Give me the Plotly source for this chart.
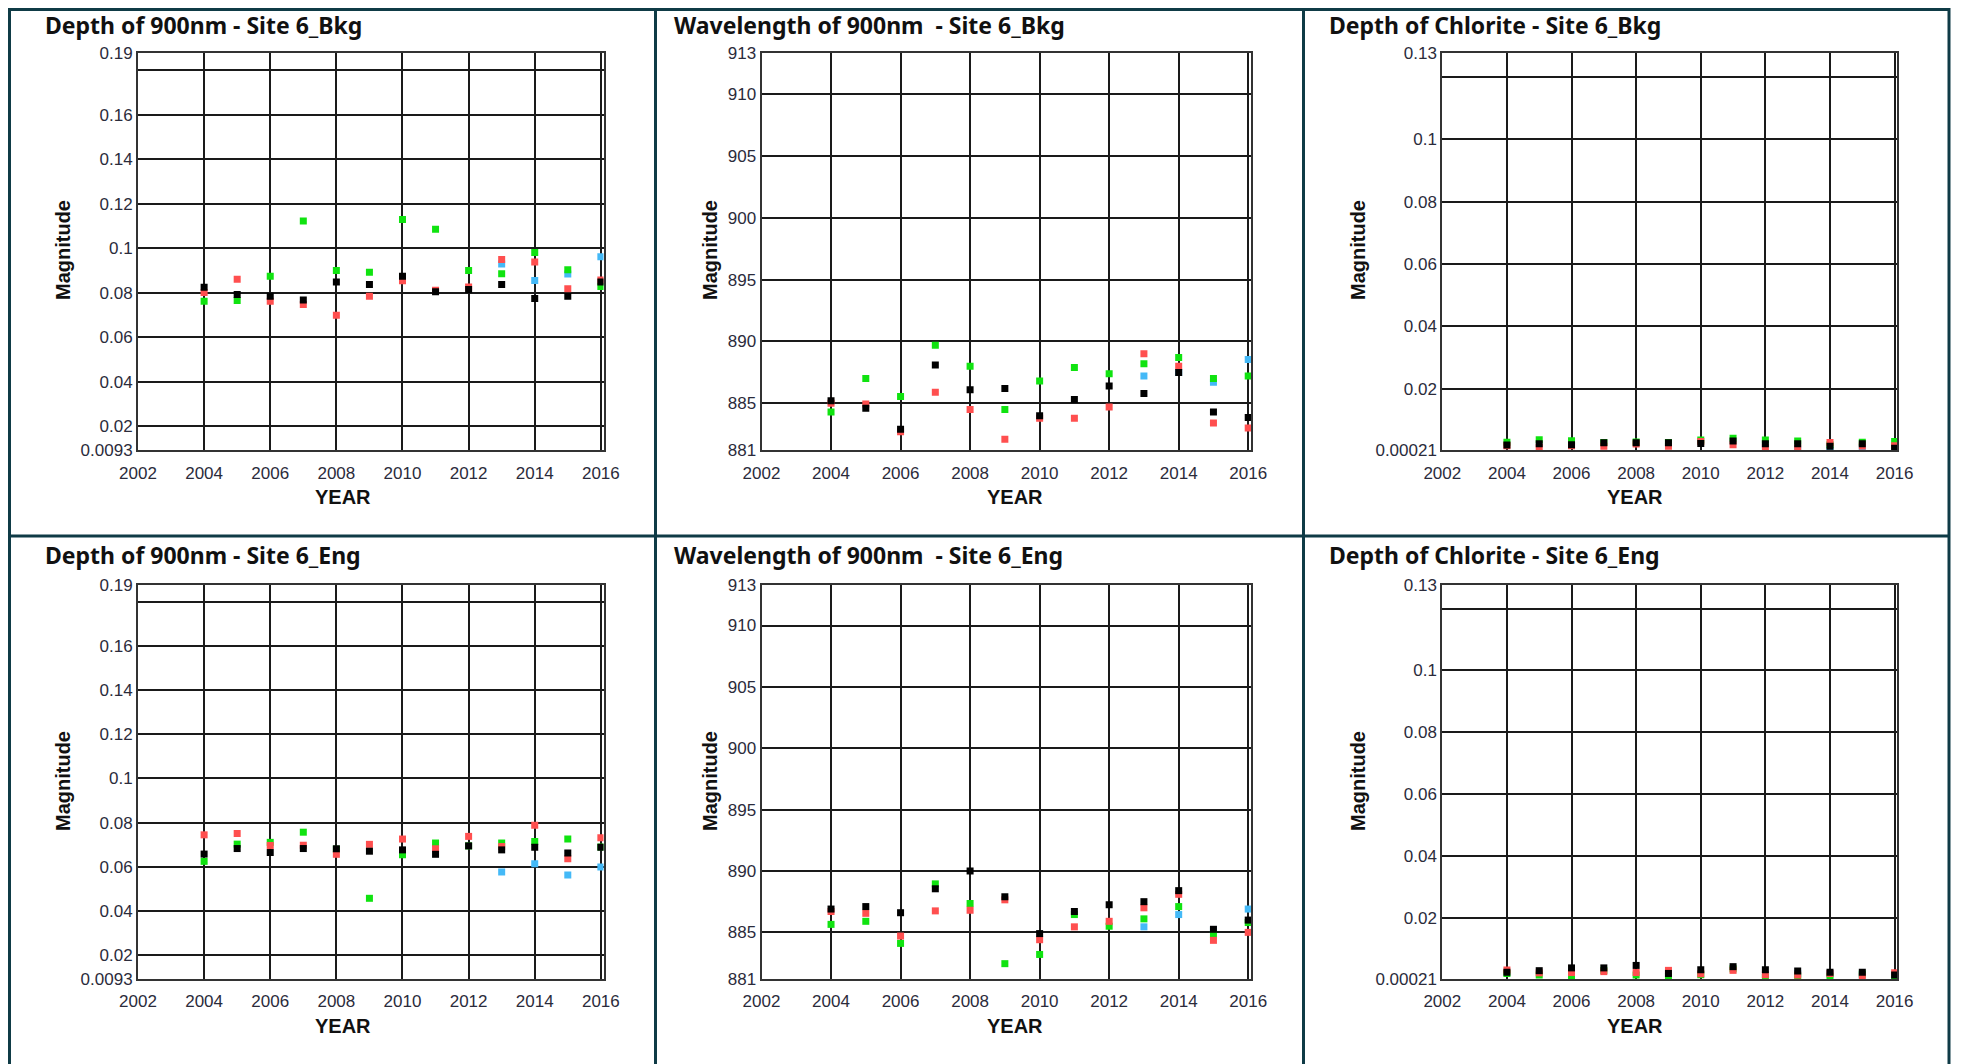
import plotly.graph_objects as go

# the page body adds an 8px margin, so the figure is a bit smaller than the window
PAGE_OFFSET = 8
FIG_W, FIG_H = 1961 - PAGE_OFFSET, 1064 - PAGE_OFFSET

years = [2004, 2005, 2006, 2007, 2008, 2009, 2010, 2011, 2012, 2013, 2014, 2015, 2016]
x_tick_years = [2002, 2004, 2006, 2008, 2010, 2012, 2014, 2016]

# Depth of 900nm - Site 6_Bkg
bkg_depth_red = [0.0802, 0.0861, 0.0762, 0.0748, 0.0699, 0.0785, 0.0854, 0.0812, 0.0826, 0.0950, 0.0938, 0.0818, 0.0858]
bkg_depth_green = [0.0762, 0.0766, 0.0874, 0.1123, 0.0900, 0.0892, 0.1129, 0.1085, 0.0900, 0.0886, 0.0981, 0.0904, 0.0828]
bkg_depth_blue = [None, None, None, None, None, None, None, None, None, 0.0930, 0.0855, 0.0884, 0.0962]
bkg_depth_black = [0.0825, 0.0792, 0.0785, 0.0768, 0.0849, 0.0837, 0.0874, 0.0805, 0.0815, 0.0837, 0.0774, 0.0785, 0.0849]

# Wavelength of 900nm - Site 6_Bkg
bkg_wl_red = [885.0, 884.95, 882.7, 885.9, 884.5, 882.1, 883.8, 883.8, 884.7, 889.0, 888.0, 883.4, 883.0]
bkg_wl_green = [884.3, 887.0, 885.55, 889.7, 888.0, 884.5, 886.8, 887.9, 887.4, 888.2, 888.7, 887.0, 887.2]
bkg_wl_blue = [None, None, None, None, None, None, None, None, None, 887.2, 887.5, 886.7, 888.55]
bkg_wl_black = [885.2, 884.6, 882.9, 888.1, 886.1, 886.2, 884.0, 885.3, 886.4, 885.8, 887.5, 884.3, 883.85]

# Depth of Chlorite - Site 6_Bkg
bkg_chl_red = [0.0017, 0.0011, 0.0017, 0.0015, 0.0022, 0.0015, 0.0030, 0.0020, 0.0011, 0.0009, 0.0027, 0.0016, 0.0017]
bkg_chl_green = [0.0028, 0.0036, 0.0033, 0.0027, 0.0029, 0.0027, 0.0035, 0.0041, 0.0035, 0.0032, 0.0020, 0.0028, 0.0030]
bkg_chl_blue = [None, None, None, None, None, None, None, None, None, 0.0002, 0.0002, 0.0011, 0.0013]
bkg_chl_black = [0.0019, 0.0023, 0.0020, 0.0026, 0.0026, 0.0026, 0.0024, 0.0032, 0.0023, 0.0023, 0.0015, 0.0023, 0.0009]

# Depth of 900nm - Site 6_Eng
eng_depth_red = [0.0745, 0.0751, 0.0697, 0.0698, 0.0657, 0.0702, 0.0726, 0.0682, 0.0738, 0.0692, 0.0788, 0.0637, 0.0732]
eng_depth_green = [0.0625, 0.0703, 0.0711, 0.0757, 0.0680, 0.0458, 0.0655, 0.0708, 0.0695, 0.0708, 0.0715, 0.0726, 0.0690]
eng_depth_blue = [None, None, None, None, None, None, None, None, None, 0.0577, 0.0614, 0.0563, 0.0600]
eng_depth_black = [0.0658, 0.0683, 0.0665, 0.0683, 0.0682, 0.0671, 0.0677, 0.0657, 0.0695, 0.0677, 0.0689, 0.0663, 0.0689]

# Wavelength of 900nm - Site 6_Eng
eng_wl_red = [886.7, 886.55, 884.7, 886.75, 886.8, 887.65, 884.4, 885.45, 885.9, 887.0, 888.1, 884.35, 885.0]
eng_wl_green = [885.65, 885.9, 884.1, 888.95, 887.35, 882.45, 883.2, 886.45, 885.5, 886.1, 887.1, 884.8, 885.8]
eng_wl_blue = [None, None, None, None, None, None, None, None, None, 885.45, 886.45, 885.2, 886.9]
eng_wl_black = [886.9, 887.1, 886.6, 888.55, 890.0, 887.9, 884.9, 886.7, 887.25, 887.5, 888.4, 885.25, 886.0]

# Depth of Chlorite - Site 6_Eng
eng_chl_red = [0.0031, 0.0022, 0.0023, 0.0026, 0.0023, 0.0030, 0.0019, 0.0030, 0.0016, 0.0015, 0.0020, 0.0011, 0.0022]
eng_chl_green = [0.0020, 0.0015, 0.0013, 0.0030, 0.0015, 0.0010, 0.0016, 0.0035, 0.0007, 0.0012, 0.0011, 0.0018, 0.0002]
eng_chl_blue = [None, None, None, None, None, None, None, None, None, 0.0020, 0.0018, 0.0015, 0.0012]
eng_chl_black = [0.0024, 0.0029, 0.0038, 0.0038, 0.0046, 0.0020, 0.0032, 0.0042, 0.0032, 0.0028, 0.0024, 0.0024, 0.0015]

# y axis ticks (ends of the range are labelled rounded, like the original tool)
depth_range = [0.0093, 0.1875]
depth_tickvals = [0.0093, 0.02, 0.04, 0.06, 0.08, 0.10, 0.12, 0.14, 0.16, 0.18, 0.1875]
depth_ticktext = ["0.0093", "0.02", "0.04", "0.06", "0.08", "0.1", "0.12", "0.14", "0.16", "", "0.19"]

wl_range = [881.2, 913.3]
wl_tickvals = [881.2, 885, 890, 895, 900, 905, 910, 913.3]
wl_ticktext = ["881", "885", "890", "895", "900", "905", "910", "913"]

chl_range = [0.00021, 0.1276]
chl_tickvals = [0.00021, 0.02, 0.04, 0.06, 0.08, 0.10, 0.12, 0.1276]
chl_ticktext = ["0.00021", "0.02", "0.04", "0.06", "0.08", "0.1", "", "0.13"]

series_colors = {"blue": "#44b9f7", "green": "#10e310", "red": "#ff4f4f", "black": "#000000"}

panels = [
    ("Depth of 900nm - Site 6_Bkg", (bkg_depth_blue, bkg_depth_green, bkg_depth_red, bkg_depth_black),
     depth_range, depth_tickvals, depth_ticktext),
    ("Wavelength of 900nm  - Site 6_Bkg", (bkg_wl_blue, bkg_wl_green, bkg_wl_red, bkg_wl_black),
     wl_range, wl_tickvals, wl_ticktext),
    ("Depth of Chlorite - Site 6_Bkg", (bkg_chl_blue, bkg_chl_green, bkg_chl_red, bkg_chl_black),
     chl_range, chl_tickvals, chl_ticktext),
    ("Depth of 900nm - Site 6_Eng", (eng_depth_blue, eng_depth_green, eng_depth_red, eng_depth_black),
     depth_range, depth_tickvals, depth_ticktext),
    ("Wavelength of 900nm  - Site 6_Eng", (eng_wl_blue, eng_wl_green, eng_wl_red, eng_wl_black),
     wl_range, wl_tickvals, wl_ticktext),
    ("Depth of Chlorite - Site 6_Eng", (eng_chl_blue, eng_chl_green, eng_chl_red, eng_chl_black),
     chl_range, chl_tickvals, chl_ticktext),
]

# pixel boxes of the plot areas (window coordinates)
col_x = [(138, 603.5), (761.5, 1251), (1442.3, 1897.2)]
row_y = [(53.4, 450.3), (585, 979)]
title_x = [43, 672, 1327]
title_y = [24.5, 555]
year_x = [342.6, 1014.8, 1635.4]
year_y = [497, 1026]
mag_x = [63, 710, 1358]
mag_y = [250, 781]


def px(x):
    return (x - PAGE_OFFSET) / FIG_W


def py(y):
    return 1 - (y - PAGE_OFFSET) / FIG_H


fig = go.Figure()
annotations = []
layout_axes = {}

for i, (title, series, yrange, ytickvals, yticktext) in enumerate(panels):
    row, col = divmod(i, 3)
    n = i + 1
    xname = "x" if n == 1 else f"x{n}"
    yname = "y" if n == 1 else f"y{n}"

    for values, key in zip(series, ["blue", "green", "red", "black"]):
        fig.add_trace(
            go.Scatter(
                x=years,
                y=values,
                mode="markers",
                name=key,
                xaxis=xname,
                yaxis=yname,
                showlegend=False,
                marker=dict(symbol="square", size=7, color=series_colors[key], line=dict(width=0)),
            )
        )

    x0, x1 = col_x[col]
    y0, y1 = row_y[row]
    axis_common = dict(
        showgrid=True,
        gridcolor="#1a1a1a",
        gridwidth=1.5,
        showline=True,
        mirror=True,
        linecolor="#333333",
        linewidth=2,
        zeroline=False,
        automargin=False,
        tickfont=dict(family="Liberation Sans, Arial, sans-serif", size=17, color="#2b2b3b"),
        fixedrange=True,
    )
    layout_axes["xaxis" if n == 1 else f"xaxis{n}"] = dict(
        axis_common,
        domain=[px(x0), px(x1)],
        anchor=yname,
        range=[2002, 2016.08],
        tickvals=x_tick_years,
        ticktext=[str(v) for v in x_tick_years],
        ticks="outside",
        ticklen=6,
        tickcolor="rgba(0,0,0,0)",
    )
    layout_axes["yaxis" if n == 1 else f"yaxis{n}"] = dict(
        axis_common,
        domain=[py(y1), py(y0)],
        anchor=xname,
        range=yrange,
        tickvals=ytickvals,
        ticktext=yticktext,
        ticks="",
    )

    annotations.append(dict(
        text=f"<b>{title}</b>", x=px(title_x[col]), y=py(title_y[row]), xref="paper", yref="paper",
        xanchor="left", yanchor="middle", showarrow=False,
        font=dict(family="Noto Sans, sans-serif", size=23, color="#111111"),
    ))
    annotations.append(dict(
        text="<b>YEAR</b>", x=px(year_x[col]), y=py(year_y[row]), xref="paper", yref="paper",
        xanchor="center", yanchor="middle", showarrow=False,
        font=dict(family="Liberation Sans, Arial, sans-serif", size=20, color="#111111"),
    ))
    annotations.append(dict(
        text="<b>Magnitude</b>", x=px(mag_x[col]), y=py(mag_y[row]), xref="paper", yref="paper",
        xanchor="center", yanchor="middle", textangle=-90, showarrow=False,
        font=dict(family="Liberation Sans, Arial, sans-serif", size=20, color="#111111"),
    ))

# frame lines between the panels
frame_color = "#0f3b46"
shapes = []
for xv in [9.5, 655.5, 1303.5, 1949]:
    shapes.append(dict(type="line", xref="paper", yref="paper", x0=px(xv), x1=px(xv), y0=0, y1=1,
                       line=dict(color=frame_color, width=3)))
for yv in [9.5, 536]:
    shapes.append(dict(type="line", xref="paper", yref="paper", x0=px(8), x1=px(1950), y0=py(yv), y1=py(yv),
                       line=dict(color=frame_color, width=3)))

fig.update_layout(
    width=FIG_W,
    height=FIG_H,
    margin=dict(l=0, r=0, t=0, b=0, pad=0, autoexpand=False),
    paper_bgcolor="white",
    plot_bgcolor="white",
    annotations=annotations,
    shapes=shapes,
    showlegend=False,
    **layout_axes,
)

fig.write_html("out.html")
